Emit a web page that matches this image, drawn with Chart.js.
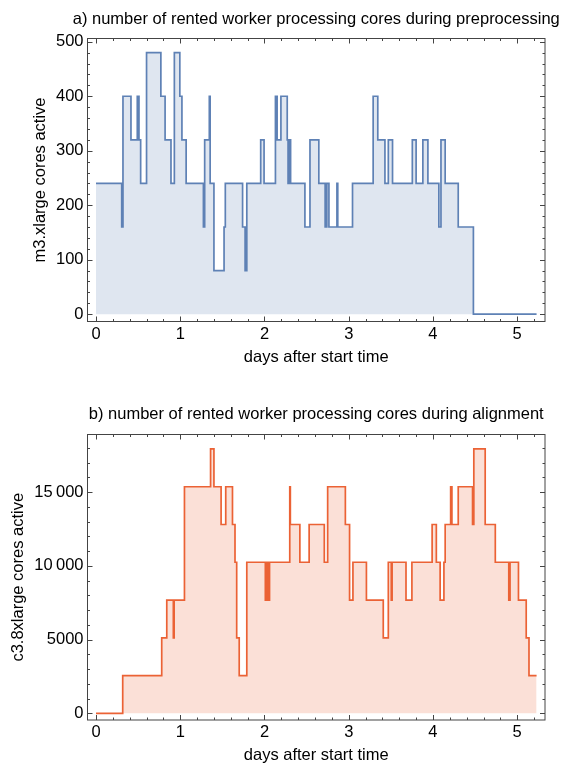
<!DOCTYPE html>
<html lang="en">
<head>
<meta charset="UTF-8">
<title>Rented worker cores</title>
<script src="https://cdn.jsdelivr.net/npm/chart.js@4.4.0/dist/chart.umd.min.js"></script>
<style>
  body { margin: 0; background: #fff; }
  .panel { position: absolute; left: 0; width: 565px; height: 383px; }
</style>
</head>
<body>
<div class="panel" style="top:0"><canvas id="preChart" width="565" height="383"></canvas></div>
<div class="panel" style="top:383px"><canvas id="alignChart" width="565" height="383"></canvas></div>
<script>
// each value holds from its day until the next day in the list
var preDays = [0, 0.305, 0.32, 0.415, 0.49, 0.51, 0.53, 0.6, 0.77, 0.82, 0.89, 0.93, 0.995, 1.02, 1.07,
  1.275, 1.29, 1.345, 1.355, 1.40, 1.52, 1.535, 1.74, 1.77, 1.79, 1.955, 1.995, 2.13, 2.15, 2.195,
  2.27, 2.28, 2.29, 2.31, 2.48, 2.54, 2.645, 2.72, 2.74, 2.765, 2.86, 2.87, 3.045, 3.29, 3.345,
  3.43, 3.47, 3.52, 3.755, 3.80, 3.88, 3.94, 4.07, 4.095, 4.145, 4.30, 4.48, 5.23];
var preCores = [240, 160, 400, 320, 400, 320, 240, 480, 400, 320, 240, 480, 400, 320, 240,
  160, 320, 400, 240, 80, 160, 240, 160, 80, 240, 320, 240, 400, 320, 400,
  320, 240, 320, 240, 160, 320, 240, 160, 240, 160, 240, 160, 240, 400, 320,
  240, 320, 240, 320, 240, 320, 240, 160, 320, 240, 160, 0, 0];

var alignDays = [0, 0.317, 0.78, 0.84, 0.918, 0.928, 1.05, 1.36, 1.40, 1.485, 1.54, 1.62, 1.65, 1.67,
  1.70, 1.79, 2.01, 2.03, 2.04, 2.06, 2.30, 2.307, 2.42, 2.53, 2.71, 2.75, 2.96, 3.01, 3.05,
  3.21, 3.41, 3.47, 3.505, 3.515, 3.68, 3.75, 3.99, 4.04, 4.085, 4.13, 4.145, 4.21, 4.225,
  4.30, 4.47, 4.485, 4.62, 4.74, 4.90, 4.915, 5.015, 5.107, 5.14, 5.23];
var alignCores = [0, 2560, 5120, 7680, 5120, 7680, 15360, 17920, 15360, 12800, 15360, 12800, 10240, 5120,
  2560, 10240, 7680, 10240, 7680, 10240, 15360, 12800, 10240, 12800, 10240, 15360, 12800, 7680, 10240,
  7680, 5120, 10240, 7680, 10240, 7680, 10240, 12800, 10240, 7680, 10240, 12800, 15360, 12800,
  15360, 12800, 17920, 12800, 10240, 7680, 10240, 7680, 5120, 2560, 2560];

var dayTicks = [0, 1, 2, 3, 4, 5];
var preTicks = [0, 100, 200, 300, 400, 500];
var preTickLabels = ['0', '100', '200', '300', '400', '500'];
var alignTicks = [0, 5000, 10000, 15000];
var alignTickLabels = ['0', '5000', '10\u2009000', '15\u2009000'];

var FONT = "'Liberation Sans', Arial, sans-serif";
Chart.defaults.font.family = FONT;
Chart.defaults.font.size = 16.5;
Chart.defaults.color = '#000';

// Mathematica style frame with inward ticks on all four sides, plus the panel title
var framePlugin = {
  id: 'frame',
  afterDatasetsDraw: function (chart, args, opts) {
    var ctx = chart.ctx, a = chart.chartArea;
    var xs = chart.scales.x, ys = chart.scales.y;
    ctx.save();
    ctx.strokeStyle = '#444';
    ctx.lineWidth = 1;
    ctx.strokeRect(a.left, a.top, a.right - a.left, a.bottom - a.top);
    ctx.beginPath();
    function xTick(v, len) {
      var p = Math.round(xs.getPixelForValue(v)) + 0.5;
      if (p <= a.left || p >= a.right) return;
      ctx.moveTo(p, a.bottom); ctx.lineTo(p, a.bottom - len);
      ctx.moveTo(p, a.top); ctx.lineTo(p, a.top + len);
    }
    function yTick(v, len) {
      var p = Math.round(ys.getPixelForValue(v)) + 0.5;
      if (p <= a.top || p >= a.bottom) return;
      ctx.moveTo(a.left, p); ctx.lineTo(a.left + len, p);
      ctx.moveTo(a.right, p); ctx.lineTo(a.right - len, p);
    }
    var i;
    for (i = 0; i * opts.xMinor <= xs.max; i++) xTick(i * opts.xMinor, 2.5);
    for (i = 0; i * opts.yMinor <= ys.max; i++) yTick(i * opts.yMinor, 2.5);
    opts.xMajor.forEach(function (v) { xTick(v, 5); });
    opts.yMajor.forEach(function (v) { yTick(v, 5); });
    ctx.stroke();

    // title centred over the plot, allowed to run past it like the original
    ctx.font = '16.5px ' + FONT;
    ctx.fillStyle = '#000';
    ctx.textAlign = 'center';
    ctx.textBaseline = 'middle';
    ctx.fillText(opts.title, (a.left + a.right) / 2, opts.titleY);
    ctx.restore();
  }
};

function makeChart(id, days, cores, o) {
  var pts = days.map(function (d, i) { return { x: d, y: cores[i] }; });
  return new Chart(document.getElementById(id), {
    type: 'line',
    data: {
      datasets: [{
        data: pts,
        stepped: true,
        borderColor: o.line,
        backgroundColor: o.fill,
        borderWidth: 1.7,
        fill: 'origin',
        pointRadius: 0
      }]
    },
    options: {
      responsive: false,
      animation: false,
      layout: { padding: { top: o.top, right: 20, bottom: 0, left: 0 } },
      plugins: {
        legend: { display: false },
        tooltip: { enabled: false },
        title: { display: false },
        frame: { xMinor: 0.2, yMinor: o.yMinor, xMajor: dayTicks, yMajor: o.yTicks, title: o.title, titleY: o.titleY }
      },
      scales: {
        x: {
          type: 'linear',
          min: -0.101,
          max: 5.33,
          grid: { display: false, drawTicks: false },
          border: { display: false },
          ticks: { padding: 3, maxRotation: 0 },
          afterBuildTicks: function (s) { s.ticks = dayTicks.map(function (v) { return { value: v }; }); },
          afterFit: function (s) { s.height = o.xHeight; },
          title: { display: true, text: 'days after start time', padding: { top: 0, bottom: o.xTitleBottom } }
        },
        y: {
          type: 'linear',
          min: o.yMin,
          max: o.yMax,
          grid: { display: false, drawTicks: false },
          border: { display: false },
          ticks: {
            padding: 4,
            callback: function (v) { var k = o.yTicks.indexOf(v); return k < 0 ? '' : o.yLabels[k]; }
          },
          afterBuildTicks: function (s) { s.ticks = o.yTicks.map(function (v) { return { value: v }; }); },
          afterFit: function (s) { s.width = 87.5; },
          title: { display: true, text: o.yTitle, padding: { top: o.yTitleLeft, bottom: 0 } }
        }
      }
    },
    plugins: [framePlugin]
  });
}

makeChart('preChart', preDays, preCores, {
  title: 'a) number of rented worker processing cores during preprocessing',
  titleY: 19,
  top: 38.5,
  yTitle: 'm3.xlarge cores active',
  yTitleLeft: 31,
  line: '#5e81b5',
  fill: 'rgba(94,129,181,0.2)',
  yMin: -13.5, yMax: 506,
  yTicks: preTicks, yLabels: preTickLabels, yMinor: 20,
  xHeight: 61.5, xTitleBottom: 16
});

makeChart('alignChart', alignDays, alignCores, {
  title: 'b) number of rented worker processing cores during alignment',
  titleY: 31,
  top: 51.5,
  yTitle: 'c3.8xlarge cores active',
  yTitleLeft: 8.6,
  line: '#eb6235',
  fill: 'rgba(235,98,53,0.2)',
  yMin: -450, yMax: 18900,
  yTicks: alignTicks, yLabels: alignTickLabels, yMinor: 1000,
  xHeight: 46, xTitleBottom: 1
});
</script>
</body>
</html>
